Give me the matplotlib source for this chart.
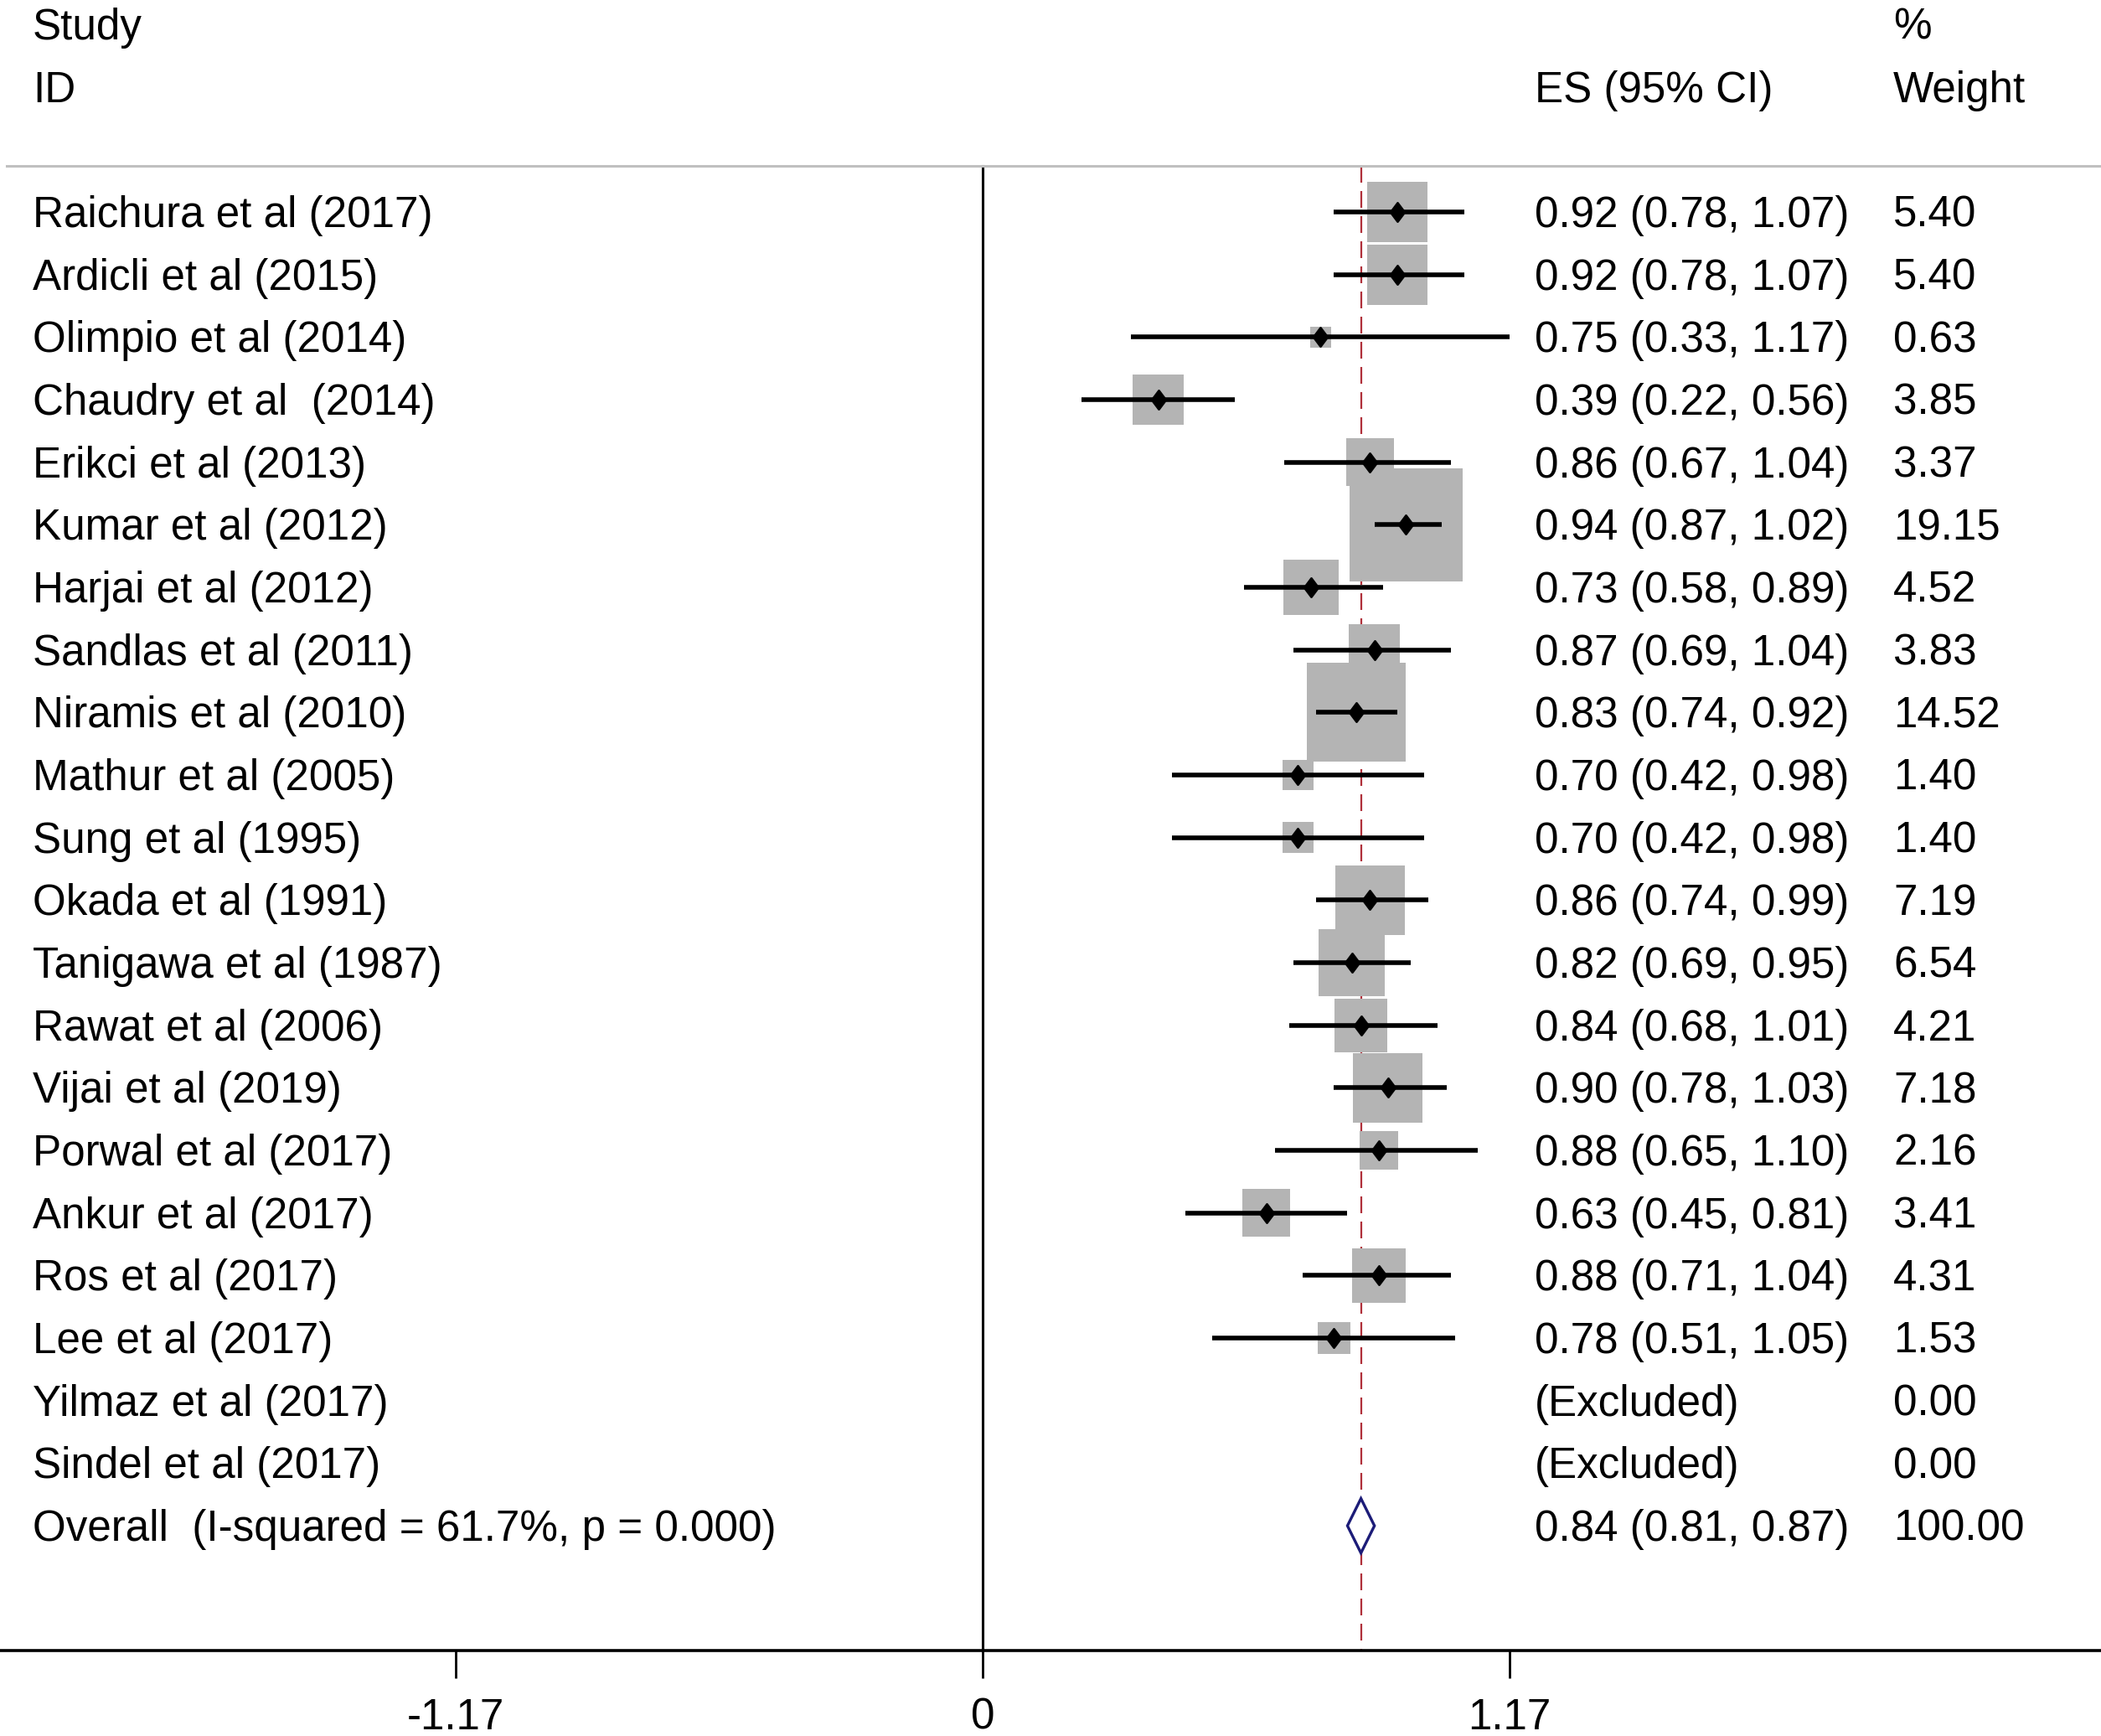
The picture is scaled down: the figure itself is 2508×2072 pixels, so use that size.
import matplotlib
matplotlib.use("Agg")
import matplotlib.pyplot as plt
import numpy as np
from matplotlib.patches import Rectangle, Polygon
from matplotlib.path import Path

plt.rcParams['font.family'] = ['Liberation Sans', 'DejaVu Sans']
plt.rcParams['lines.scale_dashes'] = False

# ---------------- data ----------------
studies = ["Raichura et al (2017)", "Ardicli et al (2015)", "Olimpio et al (2014)",
           "Chaudry et al  (2014)", "Erikci et al (2013)", "Kumar et al (2012)",
           "Harjai et al (2012)", "Sandlas et al (2011)", "Niramis et al (2010)",
           "Mathur et al (2005)", "Sung et al (1995)", "Okada et al (1991)",
           "Tanigawa et al (1987)", "Rawat et al (2006)", "Vijai et al (2019)",
           "Porwal et al (2017)", "Ankur et al (2017)", "Ros et al (2017)",
           "Lee et al (2017)", "Yilmaz et al (2017)", "Sindel et al (2017)"]
es = [0.92, 0.92, 0.75, 0.39, 0.86, 0.94, 0.73, 0.87, 0.83, 0.70, 0.70, 0.86,
      0.82, 0.84, 0.90, 0.88, 0.63, 0.88, 0.78, None, None]
lo = [0.78, 0.78, 0.33, 0.22, 0.67, 0.87, 0.58, 0.69, 0.74, 0.42, 0.42, 0.74,
      0.69, 0.68, 0.78, 0.65, 0.45, 0.71, 0.51, None, None]
hi = [1.07, 1.07, 1.17, 0.56, 1.04, 1.02, 0.89, 1.04, 0.92, 0.98, 0.98, 0.99,
      0.95, 1.01, 1.03, 1.10, 0.81, 1.04, 1.05, None, None]
weights = [5.40, 5.40, 0.63, 3.85, 3.37, 19.15, 4.52, 3.83, 14.52, 1.40, 1.40,
           7.19, 6.54, 4.21, 7.18, 2.16, 3.41, 4.31, 1.53, 0.00, 0.00]
overall_label = "Overall  (I-squared = 61.7%, p = 0.000)"
overall_es, overall_lo, overall_hi, overall_w = 0.84, 0.81, 0.87, 100.00
xticks = [-1.17, 0, 1.17]
xticklabels = ["-1.17", "0", "1.17"]

# ---------------- layout ----------------
W, H, DPI = 2508, 2072, 200
fig = plt.figure(figsize=(W / DPI, H / DPI), dpi=DPI)
ax = fig.add_axes([0, (H - 1970) / H, 1, 1970 / H])
XPX = 537.6   # pixels per x-unit
YPX = 74.67   # pixels per row
ax.set_xlim(-1173 / XPX, (W - 1173) / XPX)
ax.set_ylim((1970 - 253) / YPX, -253 / YPX)

for s in ['top', 'left', 'right']:
    ax.spines[s].set_visible(False)
ax.spines['bottom'].set_linewidth(1.3)
ax.set_yticks([])
ax.set_xticks(xticks)
ax.set_xticklabels(xticklabels)
ax.tick_params(axis='x', length=12, width=1.0, pad=8, labelsize=18.4)

FS = 18.4
BOFF = 0.24
XL, XE, XW = 0.0155, 0.7303, 0.9012
top_y = (198 - 253) / YPX
bot_y = ax.get_ylim()[0]
tr = ax.get_yaxis_transform()

# header
ax.text(XL, -3 + BOFF, "Study", transform=tr, fontsize=FS, va='baseline')
ax.text(XL, -2 + BOFF, "ID", transform=tr, fontsize=FS, va='baseline')
ax.text(XE, -2 + BOFF, "ES (95% CI)", transform=tr, fontsize=FS, va='baseline')
ax.text(XW, -3 + BOFF, "%", transform=tr, fontsize=FS, va='baseline')
ax.text(XW, -2 + BOFF, "Weight", transform=tr, fontsize=FS, va='baseline')

# rules
ax.plot([0.003, 1], [top_y, top_y], transform=tr, color='#c0c0c0', lw=1.1, clip_on=False)
ax.plot([0, 0], [top_y, bot_y], color='black', lw=1.1, zorder=1, clip_on=False)
ax.plot([overall_es, overall_es], [top_y, bot_y], color='#b0303a', lw=0.8,
        linestyle=(0, (7.2, 3.6)), zorder=1, clip_on=False)

diam = Path([(0, 1), (0.75, 0), (0, -1), (-0.75, 0), (0, 1)],
            [Path.MOVETO, Path.LINETO, Path.LINETO, Path.LINETO, Path.CLOSEPOLY])

for i, name in enumerate(studies):
    ax.text(XL, i + BOFF, name, transform=tr, fontsize=FS, va='baseline')
    ax.text(XW, i + BOFF, f"{weights[i]:.2f}", transform=tr, fontsize=FS, va='baseline')
    if es[i] is None:
        ax.text(XE, i + BOFF, "(Excluded)", transform=tr, fontsize=FS, va='baseline')
        continue
    ax.text(XE, i + BOFF, f"{es[i]:.2f} ({lo[i]:.2f}, {hi[i]:.2f})", transform=tr,
            fontsize=FS, va='baseline')
    side = 31 * np.sqrt(weights[i])
    bw, bh = side / XPX, side / YPX
    ax.add_patch(Rectangle((es[i] - bw / 2, i - bh / 2), bw, bh, facecolor='#b4b4b4',
                           edgecolor='none', zorder=2))

for i in range(len(studies)):
    if es[i] is None:
        continue
    ax.plot([lo[i], hi[i]], [i, i], color='black', lw=2.0, solid_capstyle='butt', zorder=3)
    ax.plot([es[i]], [i], marker=diam, markersize=8, color='black', zorder=4)

# overall
k = len(studies)
ax.text(XL, k + BOFF, overall_label, transform=tr, fontsize=FS, va='baseline')
ax.text(XE, k + BOFF, f"{overall_es:.2f} ({overall_lo:.2f}, {overall_hi:.2f})",
        transform=tr, fontsize=FS, va='baseline')
ax.text(XW, k + BOFF, f"{overall_w:.2f}", transform=tr, fontsize=FS, va='baseline')
dh = 0.435
ax.add_patch(Polygon([(overall_lo, k), (overall_es, k - dh), (overall_hi, k), (overall_es, k + dh)],
                     closed=True, facecolor='white', edgecolor='#1c1c78', lw=1.2, zorder=4))

fig.savefig("out.png", dpi=DPI)
